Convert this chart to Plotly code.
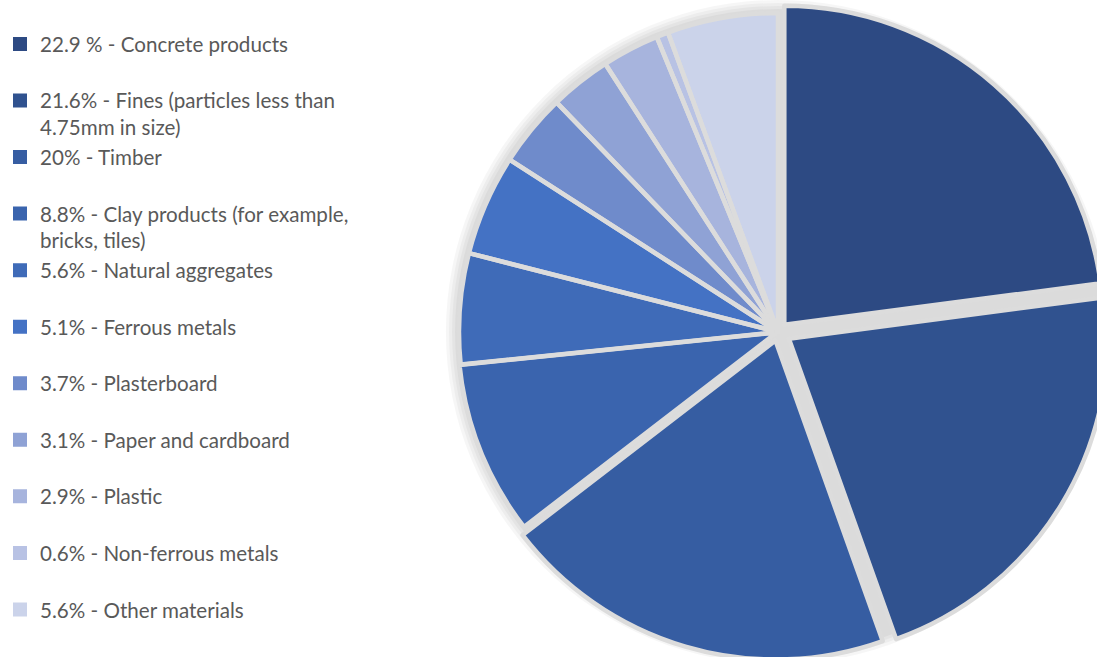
import plotly.graph_objects as go

labels = [
    "22.9 % - Concrete products",
    "21.6% - Fines (particles less than<br>4.75mm in size)",
    "20% - Timber",
    "8.8% - Clay products (for example,<br>bricks, tiles)",
    "5.6% - Natural aggregates",
    "5.1% - Ferrous metals",
    "3.7% - Plasterboard",
    "3.1% - Paper and cardboard",
    "2.9% - Plastic",
    "0.6% - Non-ferrous metals",
    "5.6% - Other materials",
]
values = [22.9, 21.6, 20.0, 8.8, 5.6, 5.1, 3.7, 3.1, 2.9, 0.6, 5.6]
colors = ["#2D4A83", "#30528F", "#365DA2", "#3A64AE", "#3F6BB8", "#4472C4",
          "#6F8BCB", "#8FA2D5", "#A7B4DD", "#B8C2E4", "#CBD3EA"]
pulls = [0.030, 0.040, 0.028, 0.004, 0, 0, 0, 0, 0, 0, 0]

W, H = 1120, 670
cx, cy, r = 778, 332, 319


def dom(half):
    return dict(x=[max(0, (cx - half) / W), min(1, (cx + half) / W)],
                y=[max(0, 1 - (cy + half) / H), min(1, 1 - (cy - half) / H)])


# legend labels padded to two lines so every entry has equal height
leg_labels = [l if "<br>" in l else l + "<br> " for l in labels]

fig = go.Figure()
# soft shadow behind the pie
for R in [332, 329, 326, 323]:
    fig.add_trace(go.Pie(values=[1], labels=["shadow"], domain=dom(R), sort=False,
                         marker=dict(colors=["rgba(0,0,0,0.035)"], line=dict(width=0)),
                         textinfo="none", hoverinfo="skip", showlegend=False))

main_dom = dom(r * (1 + max(pulls)))
fig.add_trace(go.Pie(
    labels=leg_labels, values=values, sort=False, direction="clockwise", rotation=0,
    pull=pulls, domain=main_dom,
    marker=dict(colors=colors, line=dict(color=colors, width=2)),
    textinfo="none", hoverinfo="label+value",
))
# grey separators between slices
fig.add_trace(go.Pie(
    labels=leg_labels, values=values, sort=False, direction="clockwise", rotation=0,
    pull=pulls, domain=main_dom,
    marker=dict(colors=["rgba(0,0,0,0)"] * len(values), line=dict(color="#DCDCDC", width=4.5)),
    textinfo="none", hoverinfo="skip", showlegend=False,
))

fig.update_layout(
    width=W, height=H,
    margin=dict(l=0, r=0, t=0, b=0),
    paper_bgcolor="white", plot_bgcolor="white",
    showlegend=True,
    legend=dict(x=0.0, y=1 - 24 / H, xanchor="left", yanchor="top", valign="top",
                font=dict(family="Lato", size=20.6, color="#595959"),
                bgcolor="rgba(0,0,0,0)", traceorder="normal", itemclick=False),
)

fig.write_html("out.html", post_script="document.documentElement.style.overflow='hidden';document.body.style.overflow='hidden';document.body.style.margin='0';")
